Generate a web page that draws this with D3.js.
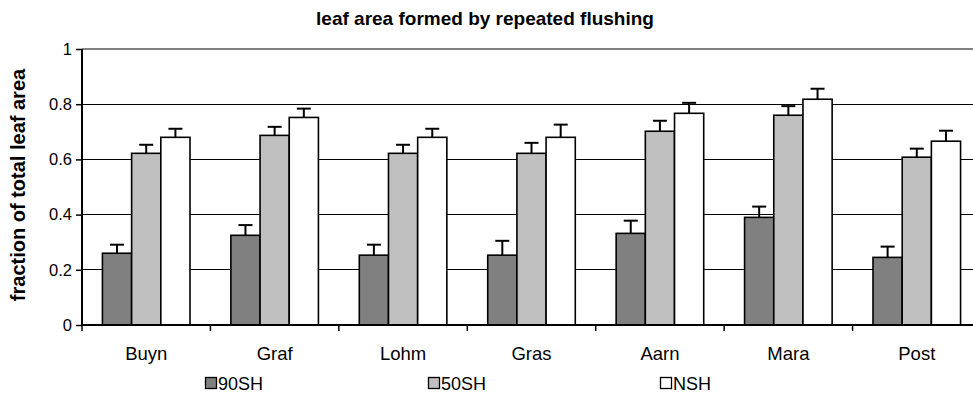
<!DOCTYPE html>
<html><head><meta charset="utf-8">
<script src="https://cdn.jsdelivr.net/npm/d3@7"></script>
<style>body{margin:0;background:#fff}svg{display:block;font-family:"Liberation Sans",Arial,sans-serif}</style>
</head><body>
<svg id="c" width="973" height="400"></svg>
<script>
const categories = ["Buyn","Graf","Lohm","Gras","Aarn","Mara","Post"];
const seriesNames = ["90SH","50SH","NSH"];
const seriesColors = ["#808080","#c0c0c0","#ffffff"];
const values90 = [0.26,0.325,0.253,0.253,0.332,0.39,0.245];
const values50 = [0.622,0.687,0.622,0.622,0.702,0.76,0.608];
const valuesN  = [0.68,0.752,0.68,0.68,0.767,0.818,0.666];
const err90 = [0.031,0.037,0.038,0.052,0.046,0.039,0.039];
const err50 = [0.031,0.031,0.031,0.038,0.038,0.033,0.031];
const errN  = [0.031,0.032,0.031,0.046,0.038,0.038,0.038];
const yTicks = [0,0.2,0.4,0.6,0.8,1];

const series = [values90, values50, valuesN];
const errs = [err90, err50, errN];

const svg = d3.select("#c");
const x0 = 82, x1 = 981, yTop = 49, yBot = 325;
const x = d3.scaleBand().domain(categories).range([x0, x1]).paddingInner(0).paddingOuter(0);
const y = d3.scaleLinear().domain([0,1]).range([yBot, yTop]);
const bw = x.bandwidth() / 4.4;
const xs = d3.scaleBand().domain(seriesNames).range([0, bw*3]);

// gridlines
svg.append("g").selectAll("line").data(yTicks.filter(t => t > 0 && t < 1)).join("line")
  .attr("x1", x0).attr("x2", 973).attr("y1", d => y(d)).attr("y2", d => y(d))
  .attr("stroke", "#000").attr("stroke-width", 1).attr("shape-rendering","crispEdges");
svg.append("line").attr("x1", x0).attr("x2", 973).attr("y1", y(1)).attr("y2", y(1))
  .attr("stroke", "#808080").attr("stroke-width", 2);

// bars
const groups = svg.append("g").selectAll("g").data(categories).join("g")
  .attr("transform", d => `translate(${x(d) + (x.bandwidth() - bw*3)/2},0)`);
seriesNames.forEach((s, si) => {
  groups.append("rect")
    .attr("x", xs(s)).attr("width", bw)
    .attr("y", (d,i) => y(series[si][i]))
    .attr("height", (d,i) => yBot - y(series[si][i]))
    .attr("fill", seriesColors[si]).attr("stroke", "#000").attr("stroke-width", 1.6);
  groups.append("line")
    .attr("x1", xs(s) + bw/2).attr("x2", xs(s) + bw/2)
    .attr("y1", (d,i) => y(series[si][i])).attr("y2", (d,i) => y(series[si][i] + errs[si][i]))
    .attr("stroke", "#000").attr("stroke-width", 2);
  groups.append("line")
    .attr("x1", xs(s) + bw/2 - 7).attr("x2", xs(s) + bw/2 + 7)
    .attr("y1", (d,i) => y(series[si][i] + errs[si][i])).attr("y2", (d,i) => y(series[si][i] + errs[si][i]))
    .attr("stroke", "#000").attr("stroke-width", 2);
});

// y axis
const ya = svg.append("g").attr("transform", `translate(${x0},0)`)
  .call(d3.axisLeft(y).tickValues(yTicks).tickFormat(d => d3.format("")(d)).tickSize(6).tickPadding(4));
ya.select(".domain").attr("stroke-width", 2).attr("d", `M0,${yTop}V${yBot+1}`);
ya.selectAll(".tick line").attr("stroke-width", 1.5);
ya.selectAll("text").attr("font-size", 16.5).attr("fill", "#000").attr("font-family",null);

// x axis
const boundaries = categories.map(c => x(c)).concat([x1]);
svg.append("line").attr("x1", x0-1).attr("x2", 973).attr("y1", yBot).attr("y2", yBot)
  .attr("stroke", "#000").attr("stroke-width", 2);
svg.append("g").selectAll("line").data(boundaries).join("line")
  .attr("x1", d => d).attr("x2", d => d).attr("y1", yBot).attr("y2", yBot + 6)
  .attr("stroke", "#000").attr("stroke-width", 1.5);
svg.append("g").selectAll("text").data(categories).join("text")
  .attr("x", d => x(d) + x.bandwidth()/2).attr("y", 360)
  .attr("text-anchor", "middle").attr("font-size", 18.5).text(d => d);

// title
svg.append("text").attr("x", 485).attr("y", 25).attr("text-anchor", "middle")
  .attr("font-size", 19).attr("font-weight", "bold").text("leaf area formed by repeated flushing");
// y label
svg.append("text").attr("transform", `translate(25,${(yTop+yBot)/2 - 2}) rotate(-90)`)
  .attr("text-anchor", "middle").attr("font-size", 20).attr("font-weight", "bold")
  .text("fraction of total leaf area");

// legend
const legX = [205, 428, 660];
const leg = svg.append("g").selectAll("g").data(seriesNames).join("g")
  .attr("transform", (d,i) => `translate(${legX[i]},0)`);
leg.append("rect").attr("x", 0.5).attr("y", 377.5).attr("width", 11).attr("height", 11)
  .attr("fill", (d,i) => seriesColors[i]).attr("stroke", "#000").attr("stroke-width", 1.3);
leg.append("text").attr("x", 13).attr("y", 390).attr("font-size", 18).text(d => d);
</script>
</body></html>
